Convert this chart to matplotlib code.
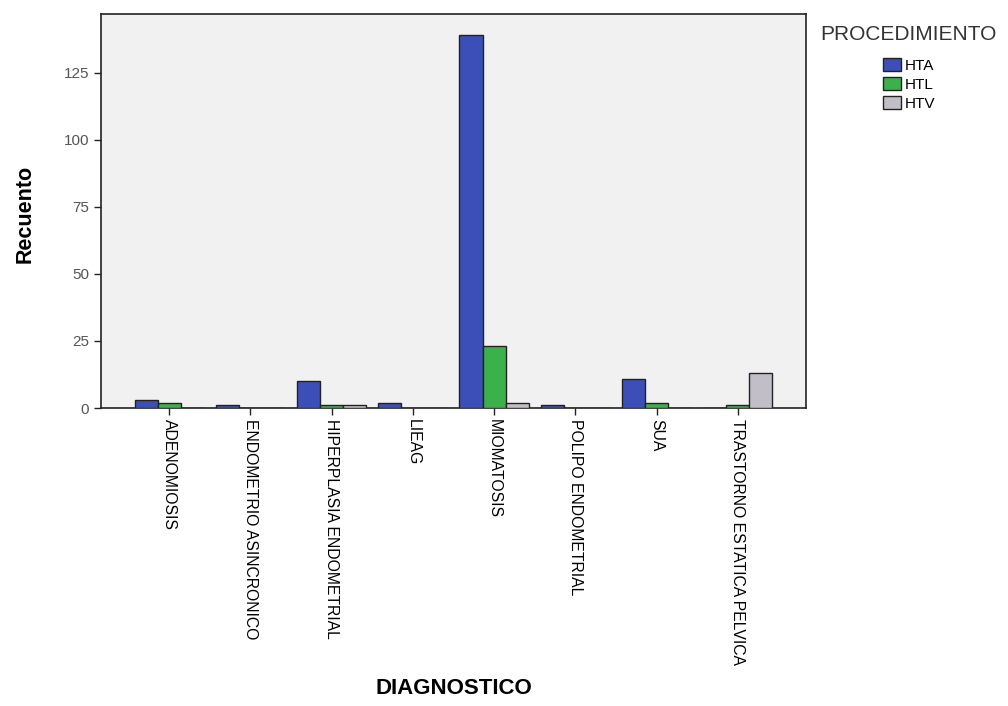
import matplotlib
matplotlib.use("Agg")
import matplotlib.pyplot as plt
from matplotlib.patches import Patch
import numpy as np

plt.rcParams['font.family'] = ['Liberation Sans', 'DejaVu Sans']

categories = ["ADENOMIOSIS", "ENDOMETRIO ASINCRONICO", "HIPERPLASIA ENDOMETRIAL",
              "LIEAG", "MIOMATOSIS", "POLIPO ENDOMETRIAL", "SUA",
              "TRASTORNO ESTATICA PELVICA"]
series_names = ["HTA", "HTL", "HTV"]
hta = [3, 1, 10, 2, 139, 1, 11, 0]
htl = [2, 0, 1, 0, 23, 0, 2, 1]
htv = [0, 0, 1, 0, 2, 0, 0, 13]
yticks = [0, 25, 50, 75, 100, 125]

colors = ["#3c4fb8", "#3cb04a", "#c2bec8"]

fig = plt.figure(figsize=(10.08, 7.06), dpi=100)
ax = fig.add_axes([101/1008, 1-408/706, 705/1008, 394/706])
ax.set_facecolor("#f1f1f1")

x = np.arange(len(categories))
w = 0.285
for i, (vals, c) in enumerate(zip([hta, htl, htv], colors)):
    ax.bar(x + (i - 1) * w, vals, width=w, color=c, edgecolor="#222222",
           linewidth=1.0, zorder=3)

ax.set_xlim(-0.84, len(categories) - 1 + 0.84)
ax.set_ylim(0, 147)
ax.set_yticks(yticks)
ax.set_yticklabels([str(v) for v in yticks], fontsize=11, color="#555555")
ax.set_xticks(x)
ax.set_xticklabels(categories, rotation=270, fontsize=11.3, va="top", ha="center")
ax.tick_params(axis="both", direction="out", length=5, width=1, color="#222222")
ax.tick_params(axis="x", pad=3)
for s in ax.spines.values():
    s.set_color("#222222")
    s.set_linewidth(1.2)

fig.text(25/1008, 1-214/706, "Recuento", fontsize=15.5, fontweight="bold",
         rotation=90, ha="center", va="center")
fig.text(454/1008, 1-689/706, "DIAGNOSTICO", fontsize=16, fontweight="bold",
         ha="center", va="center")

fig.text(820/1008, 1-34/706, "PROCEDIMIENTO", fontsize=15, ha="left",
         va="center", color="#333333")
handles = [Patch(facecolor=c, edgecolor="#222222", label=n)
           for c, n in zip(colors, series_names)]
fig.legend(handles=handles, loc="upper left", bbox_to_anchor=(883/1008, 1-58/706),
           frameon=False, fontsize=11, handlelength=1.2, handleheight=0.9,
           handletextpad=0.2, labelspacing=0.3, borderpad=0, borderaxespad=0)

fig.savefig("out.png", dpi=100)
